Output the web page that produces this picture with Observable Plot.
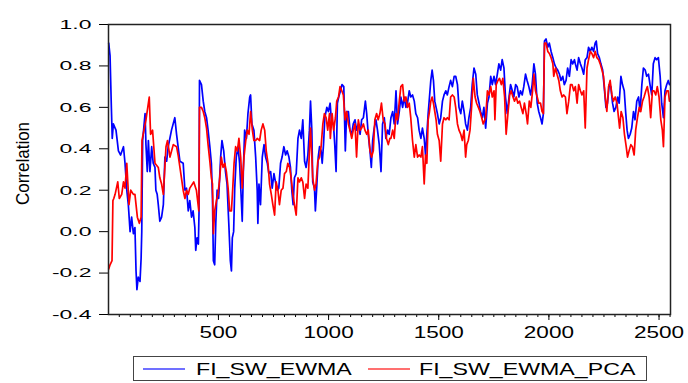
<!DOCTYPE html>
<html><head><meta charset="utf-8">
<script src="https://cdn.jsdelivr.net/npm/d3@7"></script>
<script src="https://cdn.jsdelivr.net/npm/@observablehq/plot@0.6"></script>
<style>
html,body{margin:0;padding:0;background:#fff;}
#chart{position:relative;width:688px;height:383px;font-family:"Liberation Sans",Arial,sans-serif;overflow:hidden;}
#chart svg{display:block;}
</style></head><body><div id="chart"></div>
<script>
const seriesNames = ["FI_SW_EWMA", "FI_SW_EWMA_PCA"];
const yLabel = "Correlation";
const yTicks = [-0.4, -0.2, 0.0, 0.2, 0.4, 0.6, 0.8, 1.0];
const xTicks = [500, 1000, 1500, 2000, 2500];
const xMinorTicks = d3.range(50, 2551, 50);

// [observation, correlation]
const ewma = [
[2,.91],[8,.85],[14,.60],[18,.45],[23,.52],[31,.50],[35,.49],[46,.39],[56,.37],[69,.41],[76,.33],[84,.20],[91,.13],[99,.00],[106,.07],[114,-.01],[121,.02],[126,-.19],[130,-.28],[136,-.22],[144,-.24],[149,-.13],[152,.00],[156,.44],[167,.57],[171,.42],[177,.29],[182,.44],[189,.29],[197,.41],[204,.33],[212,.31],[216,.20],[222,.18],[227,.13],[234,.05],[242,.07],[250,.13],[257,.36],[265,.34],[272,.41],[287,.49],[302,.55],[310,.47],[325,.34],[340,.33],[348,.20],[355,.21],[363,.10],[370,.15],[378,.07],[385,.10],[393,.02],[397,-.09],[403,-.03],[409,-.06],[412,.10],[414,.73],
[423,.71],[431,.63],[438,.58],[446,.55],[453,.49],[461,.41],[468,.33],[473,.16],[477,-.14],[483,-.16],[488,.04],[494,.20],[501,.16],[510,.36],[516,.44],[524,.39],[532,.29],[539,.23],[547,.04],[554,-.14],[559,-.19],[563,-.03],[569,.00],[574,.21],[581,.36],[589,.41],[596,.33],[604,.15],[608,.05],[613,.29],[619,.49],[627,.45],[634,.57],[642,.65],[646,.66],[652,.52],[661,.49],[669,.36],[676,.20],[679,.04],[684,.23],[691,.13],[699,.36],[707,.42],[714,.36],[722,.33],[729,.28],[737,.29],[744,.21],[752,.28],[759,.24],[767,.20],[774,.21],[782,.33],[789,.36],[797,.41],[805,.37],[812,.39],[820,.36],[827,.31],[833,.20],[839,.13],[845,.26],
[853,.28],[861,.45],[868,.49],[876,.45],[883,.54],[891,.34],[898,.31],[906,.37],[913,.49],[918,.63],[924,.49],[928,.24],[936,.21],[940,.10],[946,.21],[953,.36],[959,.41],[966,.39],[971,.33],[977,.42],[983,.55],[992,.60],[999,.58],[1007,.62],[1014,.52],[1022,.52],[1028,.42],[1034,.29],[1040,.62],[1046,.65],[1054,.68],[1061,.71],[1069,.70],[1076,.39],[1082,.58],[1090,.58],[1097,.49],[1105,.47],[1112,.52],[1120,.54],[1127,.49],[1135,.52],[1143,.47],[1150,.54],[1158,.55],[1167,.63],[1173,.57],[1180,.47],[1188,.39],[1194,.31],[1200,.44],[1207,.50],[1215,.54],[1222,.49],[1230,.42],[1238,.29],[1245,.52],[1253,.55],[1260,.45],[1268,.49],[1275,.47],
[1283,.55],[1291,.58],[1298,.52],[1306,.68],[1313,.52],[1321,.58],[1328,.65],[1336,.60],[1343,.65],[1351,.60],[1358,.62],[1366,.68],[1373,.65],[1381,.66],[1389,.63],[1396,.57],[1404,.55],[1411,.49],[1419,.45],[1426,.50],[1434,.45],[1440,.37],[1446,.47],[1452,.57],[1458,.65],[1464,.73],[1470,.78],[1476,.73],[1482,.63],[1488,.60],[1494,.57],[1502,.52],[1509,.55],[1517,.63],[1524,.66],[1532,.68],[1539,.66],[1547,.70],[1554,.73],[1562,.70],[1570,.75],[1577,.75],[1585,.71],[1592,.60],[1600,.57],[1607,.63],[1615,.58],[1622,.52],[1630,.49],[1637,.55],[1645,.60],[1652,.71],[1660,.79],[1668,.76],[1675,.66],[1683,.62],[1690,.58],[1698,.55],[1705,.60],
[1713,.50],[1721,.62],[1728,.65],[1736,.75],[1743,.71],[1751,.75],[1758,.71],[1766,.76],[1773,.81],[1781,.78],[1788,.83],[1796,.79],[1803,.65],[1811,.57],[1819,.65],[1826,.71],[1834,.68],[1841,.65],[1849,.71],[1856,.70],[1864,.65],[1871,.68],[1879,.66],[1886,.70],[1894,.76],[1901,.73],[1909,.70],[1917,.66],[1924,.71],[1932,.81],[1939,.76],[1947,.62],[1954,.58],[1962,.55],[1969,.52],[1975,.57],[1980,.92],[1987,.93],[1995,.89],[2002,.91],[2010,.87],[2018,.84],[2025,.81],[2033,.79],[2040,.78],[2048,.76],[2055,.73],[2063,.75],[2070,.71],[2078,.73],[2085,.79],[2093,.75],[2101,.83],[2108,.81],[2116,.83],
[2120,.81],[2128,.78],[2135,.84],[2143,.81],[2150,.79],[2158,.76],[2165,.83],[2173,.84],[2180,.89],[2188,.87],[2195,.89],[2203,.87],[2210,.91],[2215,.92],[2221,.86],[2229,.84],[2236,.81],[2244,.78],[2251,.70],[2259,.60],[2266,.62],[2274,.71],[2281,.70],[2289,.62],[2296,.58],[2304,.60],[2312,.65],[2319,.62],[2327,.75],[2334,.71],[2342,.68],[2349,.57],[2355,.49],[2361,.45],[2369,.47],[2376,.50],[2384,.58],[2391,.54],[2399,.63],[2407,.65],[2414,.58],[2422,.71],[2429,.79],[2437,.78],[2444,.75],[2452,.76],[2459,.71],[2467,.66],[2474,.81],[2482,.84],[2489,.83],[2497,.84],[2505,.75],[2512,.62],[2520,.55],[2527,.68],[2535,.71],[2542,.73],[2547,.71]
];

const ewmaPca = [
[2,-.18],[8,-.16],[17,-.14],[21,.15],[25,.16],[31,.18],[43,.24],[50,.16],[61,.18],[69,.24],[76,.21],[84,.33],[94,.13],[102,.20],[114,.18],[121,.18],[132,.07],[141,.04],[149,.07],[153,.44],[162,.49],[171,.54],[186,.65],[192,.47],[201,.49],[212,.33],[227,.31],[234,.26],[242,.23],[250,.18],[262,.41],[269,.44],[280,.36],[295,.42],[310,.41],[317,.37],[328,.29],[340,.20],[348,.16],[355,.20],[363,.18],[370,.21],[388,.24],[400,.20],[411,.10],[414,.60],
[423,.60],[431,.58],[438,.55],[446,.50],[453,.42],[461,.34],[468,.26],[473,.23],[477,-.01],[483,.10],[491,.15],[498,.18],[506,.26],[513,.36],[521,.31],[529,.33],[536,.29],[544,.21],[551,.10],[559,.10],[565,.21],[571,.33],[578,.41],[586,.39],[593,.45],[601,.36],[608,.21],[616,.36],[624,.44],[631,.49],[639,.47],[646,.58],[654,.49],[661,.44],[669,.44],[676,.45],[687,.44],[694,.49],[702,.52],[710,.49],[717,.39],[725,.33],[732,.23],[740,.18],[747,.13],[755,.08],[762,.24],[770,.20],[777,.13],[785,.20],[793,.21],[800,.28],[808,.29],[815,.33],[823,.31],[830,.26],[838,.18],[845,.13],
[853,.08],[861,.26],[868,.24],[876,.26],[883,.24],[891,.16],[898,.23],[906,.21],[913,.39],[918,.50],[924,.36],[928,.26],[936,.20],[943,.23],[951,.34],[959,.36],[966,.41],[974,.52],[981,.57],[989,.55],[996,.49],[1004,.57],[1008,.45],[1016,.57],[1023,.49],[1031,.55],[1037,.63],[1045,.65],[1052,.70],[1060,.68],[1067,.66],[1075,.54],[1082,.58],[1090,.52],[1097,.49],[1105,.45],[1112,.49],[1120,.52],[1127,.36],[1135,.54],[1143,.49],[1150,.50],[1158,.52],[1165,.49],[1173,.47],[1180,.49],[1188,.39],[1195,.36],[1203,.39],[1210,.54],[1218,.57],[1225,.54],[1233,.57],[1240,.62],[1248,.54],[1256,.52],[1263,.45],[1271,.42],[1278,.45],
[1283,.45],[1291,.49],[1298,.45],[1306,.57],[1313,.54],[1321,.63],[1328,.70],[1336,.71],[1343,.63],[1351,.65],[1358,.60],[1366,.62],[1373,.55],[1381,.44],[1389,.36],[1396,.42],[1404,.36],[1411,.37],[1419,.36],[1426,.41],[1434,.23],[1440,.37],[1446,.33],[1452,.54],[1458,.58],[1464,.63],[1470,.65],[1476,.62],[1482,.58],[1488,.54],[1494,.47],[1502,.44],[1509,.34],[1517,.52],[1524,.55],[1532,.54],[1539,.55],[1547,.54],[1554,.65],[1562,.66],[1570,.65],[1577,.60],[1585,.52],[1592,.49],[1600,.47],[1607,.44],[1615,.49],[1622,.36],[1627,.42],[1634,.44],[1642,.49],[1649,.60],[1657,.74],[1665,.65],[1672,.62],[1680,.60],[1687,.58],[1695,.55],[1702,.52],
[1713,.55],[1721,.68],[1728,.66],[1736,.70],[1743,.65],[1751,.68],[1755,.54],[1761,.71],[1769,.73],[1776,.74],[1784,.71],[1791,.74],[1799,.65],[1806,.47],[1814,.57],[1822,.66],[1829,.68],[1837,.65],[1844,.63],[1852,.65],[1859,.62],[1867,.63],[1874,.60],[1882,.57],[1889,.62],[1897,.57],[1903,.52],[1911,.63],[1918,.60],[1926,.68],[1932,.76],[1939,.68],[1947,.65],[1954,.62],[1962,.62],[1969,.58],[1975,.57],[1980,.91],[1987,.91],[1995,.87],[2002,.86],[2010,.84],[2018,.81],[2022,.75],[2030,.79],[2037,.76],[2045,.73],[2052,.68],[2060,.65],[2067,.66],[2075,.65],[2082,.57],[2090,.63],[2098,.71],[2105,.71],[2113,.68],
[2120,.70],[2128,.62],[2135,.71],[2143,.68],[2150,.66],[2158,.68],[2165,.50],[2173,.79],[2180,.83],[2188,.87],[2195,.86],[2203,.84],[2210,.87],[2218,.84],[2226,.83],[2233,.81],[2241,.78],[2248,.75],[2256,.65],[2263,.58],[2271,.70],[2278,.73],[2286,.66],[2293,.63],[2301,.65],[2309,.62],[2316,.55],[2321,.50],[2328,.58],[2336,.55],[2343,.47],[2351,.41],[2357,.36],[2364,.39],[2372,.42],[2379,.41],[2387,.37],[2394,.49],[2402,.55],[2410,.60],[2417,.58],[2425,.63],[2432,.65],[2440,.68],[2447,.70],[2455,.65],[2462,.55],[2470,.68],[2477,.68],[2485,.66],[2492,.70],[2500,.65],[2508,.54],[2515,.49],[2520,.41],[2527,.65],[2535,.68],[2542,.68],[2547,.63]
];

const BLUE = "#0000ff", RED = "#ff0000";

const svg = Plot.plot({
  width: 688, height: 345,
  marginTop: 24, marginBottom: 31, marginLeft: 108, marginRight: 18,
  x: {domain: [1, 2552]},
  y: {domain: [-0.4, 1.0]},
  style: {fontFamily: "'Liberation Sans', Arial, sans-serif", background: "#fff", color: "#000", overflow: "visible"},
  marks: [
    Plot.line(ewma, {x: d => d[0], y: d => d[1], stroke: BLUE, strokeWidth: 1.7}),
    Plot.line(ewmaPca, {x: d => d[0], y: d => d[1], stroke: RED, strokeWidth: 1.7}),
    Plot.axisY({ticks: yTicks, tickSize: 9, tickPadding: 8, tickFormat: d => d.toFixed(1), fontSize: 13.5, label: null}),
    Plot.axisX({ticks: xMinorTicks, tickSize: 3, tickFormat: () => "", label: null}),
    Plot.axisX({ticks: xTicks, tickSize: 6, tickPadding: 6, tickFormat: d => String(d), fontSize: 16, label: null}),
    Plot.frame({stroke: "#222", strokeWidth: 1.5}),
    Plot.text([yLabel], {frameAnchor: "left", textAnchor: "middle", dx: -85, dy: -6, rotate: -90, fontSize: 17, fill: "#000"})
  ]
});

// widen glyphs like the reference (append a scale to each text's own transform)
function stretch(nodes, sx, sy) {
  nodes.forEach(t => {
    const tr = t.getAttribute("transform") || "";
    t.setAttribute("transform", `${tr} scale(${sx},${sy})`);
  });
}
stretch(svg.querySelectorAll('g[aria-label="y-axis tick label"] text'), 1.7, 1);
stretch(svg.querySelectorAll('g[aria-label="x-axis tick label"] text'), 1.41, 1);
stretch(svg.querySelectorAll('g[aria-label="text"] text'), 1, 1.1);

const chart = document.getElementById("chart");
chart.appendChild(svg);

// legend below the plot
const leg = d3.create("svg").attr("width", 688).attr("height", 383)
  .style("position", "absolute").style("left", "0px").style("top", "0px");
leg.append("rect").attr("x", 133.5).attr("y", 356.5).attr("width", 513).attr("height", 24)
  .attr("fill", "none").attr("stroke", "#444").attr("stroke-width", 1);
const items = [
  {name: seriesNames[0], color: BLUE, x0: 143, x1: 185, tx: 196},
  {name: seriesNames[1], color: RED, x0: 368, x1: 410, tx: 419}
];
items.forEach(it => {
  leg.append("line").attr("x1", it.x0).attr("x2", it.x1).attr("y1", 369).attr("y2", 369)
    .attr("stroke", it.color).attr("stroke-width", 1.3).attr("stroke-opacity", 0.75);
  leg.append("text").attr("transform", `translate(${it.tx},375) scale(1.45,1)`)
    .attr("font-family", "'Liberation Sans', Arial, sans-serif").attr("font-size", 16)
    .attr("fill", "#000").text(it.name);
});
chart.appendChild(leg.node());
</script>
</body></html>
